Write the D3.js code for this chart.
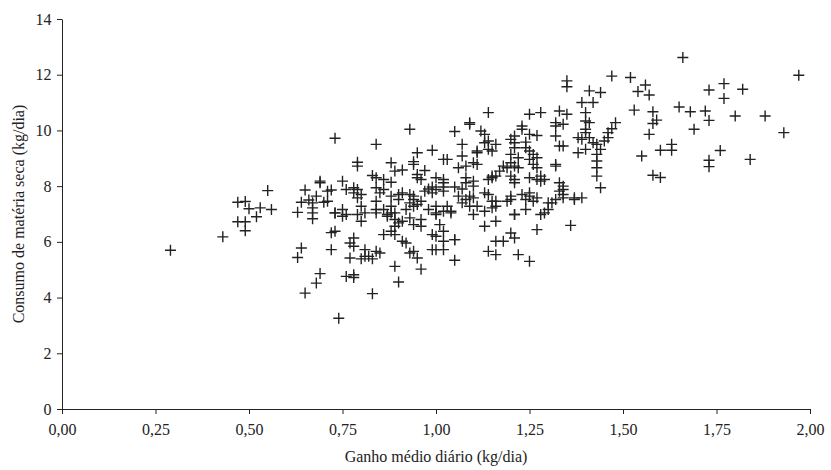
<!DOCTYPE html>
<html>
<head>
<meta charset="utf-8">
<script src="https://cdn.jsdelivr.net/npm/d3@7"></script>
<style>
  body { margin: 0; background: #fff; }
  svg text { font-family: "Liberation Serif", "Times New Roman", serif; fill: #222; }
</style>
</head>
<body>
<svg width="831" height="470"></svg>
<script>
// ganho medio diario (kg/dia) and consumo de materia seca (kg/dia)
var ganho = [
  0.29,0.43,0.55,0.47,0.49,0.50,0.53,0.56,0.52,0.47,0.49,0.49,
  0.69,0.65,0.71,0.68,0.64,0.66,0.67,0.70,0.63,0.67,0.67,0.67,0.64,0.63,0.69,0.68,0.65,0.72,
  0.73,0.93,1.09,1.05,0.84,1.07,0.95,0.99,1.02,1.03,1.07,1.11,0.79,0.79,0.88,0.94,0.94,
  0.89,0.91,0.97,1.06,1.08,1.10,0.83,0.84,0.86,0.88,0.95,0.95,0.96,1.00,1.02,1.02,1.08,1.10,
  0.69,0.75,0.72,0.76,0.78,0.78,0.79,0.79,0.80,0.84,0.85,0.86,0.88,0.90,0.91,0.93,0.94,0.94,
  0.97,0.98,0.99,0.99,1.00,1.02,1.02,1.05,1.07,1.08,0.71,0.73,0.75,0.76,0.80,0.81,0.84,0.84,
  0.86,0.88,0.87,0.89,0.90,0.93,0.92,0.94,0.95,0.96,0.98,1.00,1.00,1.02,1.03,1.04,
  1.06,1.07,1.08,1.09,1.10,
  0.73,0.75,0.79,0.80,0.84,0.87,0.88,0.89,0.89,0.90,0.91,0.93,0.94,0.96,0.96,
  0.88,0.89,0.86,1.00,1.04,1.10,1.01,1.02,0.99,1.00,1.02,1.05,1.05,0.99,1.00,1.02,1.05,
  0.73,0.72,0.77,0.78,0.78,0.81,0.81,0.84,0.85,0.77,0.80,0.82,0.83,0.91,0.92,0.93,0.94,0.95,
  0.89,0.96,0.76,0.78,0.78,0.90,0.83,0.74,
  1.35,1.35,1.41,1.44,1.42,1.39,1.14,1.25,1.28,1.33,1.35,1.40,1.40,1.41,1.48,1.47,1.46,1.46,1.45,
  1.32,1.34,1.32,1.40,1.40,1.38,1.39,1.41,1.23,1.23,1.25,1.27,1.21,1.20,1.21,1.21,1.24,1.24,
  1.32,1.33,1.34,1.42,1.43,1.44,1.43,1.40,1.38,1.43,1.43,1.43,1.44,
  1.12,1.13,1.13,1.14,1.14,1.15,1.11,1.16,1.09,1.11,
  1.25,1.26,1.25,1.27,1.26,1.27,1.20,1.22,1.20,1.21,1.22,1.18,1.17,1.19,1.16,1.15,1.14,1.15,
  1.20,1.21,1.21,1.25,1.27,1.28,1.28,1.29,1.32,1.32,1.33,1.34,1.33,1.34,1.34,1.37,1.39,
  1.20,1.20,1.23,1.25,1.24,1.25,1.26,1.27,1.30,1.32,1.34,1.10,1.09,1.11,1.13,1.14,1.15,1.16,
  1.16,1.19,1.31,1.37,1.13,1.15,1.21,1.21,1.24,1.28,1.29,1.30,1.13,1.16,1.27,1.36,1.16,1.18,
  1.20,1.21,1.14,1.16,1.22,1.25,1.47,
  1.66,1.97,1.52,1.56,1.57,1.54,1.73,1.77,1.77,1.82,1.53,1.58,1.59,1.58,1.65,1.68,1.72,1.73,
  1.80,1.88,1.69,1.57,1.93,1.63,1.63,1.60,1.55,1.76,1.73,1.73,1.84,1.58,1.60
];
var consumo = [
  5.70,6.18,7.84,7.42,7.45,7.19,7.22,7.16,6.90,6.72,6.72,6.40,
  8.12,7.86,7.82,7.64,7.42,7.50,7.40,7.42,7.06,7.22,7.04,6.83,5.78,5.44,4.86,4.52,4.16,6.33,
  9.72,10.04,10.22,9.96,9.50,9.50,9.20,9.29,8.96,8.96,9.08,9.20,8.86,8.72,8.84,8.88,8.78,
  8.54,8.58,8.56,8.66,8.72,8.84,8.38,8.30,8.24,8.14,8.42,8.30,8.24,8.30,8.24,8.12,8.30,8.18,
  8.18,8.18,7.86,7.88,7.94,7.76,7.58,7.88,7.70,7.94,7.76,7.88,7.64,7.70,7.76,7.70,7.64,7.52,
  7.82,7.90,7.97,7.76,7.88,7.97,7.82,7.97,7.90,8.12,7.46,7.04,7.16,6.98,7.28,7.04,7.46,7.16,
  7.16,7.28,6.98,7.04,7.52,7.40,7.16,7.28,7.34,7.46,7.16,6.98,7.28,7.10,7.28,7.04,
  7.64,7.40,7.52,7.28,7.58,
  7.04,6.92,6.98,6.74,7.04,6.92,7.04,6.80,6.56,6.68,6.74,6.86,6.62,6.80,6.56,
  6.38,6.26,6.26,7.04,7.10,6.98,6.62,6.38,6.26,6.20,6.02,6.08,6.08,5.72,5.72,5.72,5.34,
  6.38,5.72,5.96,6.14,5.84,5.72,5.48,5.66,5.60,5.42,5.39,5.48,5.39,6.02,5.96,5.60,5.66,5.42,
  5.12,5.02,4.76,4.82,4.72,4.56,4.14,3.26,
  11.78,11.57,11.42,11.36,11.00,11.00,10.64,10.58,10.64,10.70,10.58,10.64,10.34,10.28,10.28,10.06,9.92,9.74,9.62,
  10.28,10.22,10.16,10.04,9.92,9.74,9.68,9.74,10.16,10.04,9.86,9.82,9.80,9.68,9.56,9.38,9.58,9.38,
  9.80,9.44,9.44,9.56,9.50,9.32,9.14,9.32,9.20,8.90,8.66,8.36,7.94,
  9.98,9.86,9.56,9.62,9.32,9.26,9.26,9.50,10.28,8.78,
  9.26,9.14,8.96,9.02,8.78,8.66,9.14,9.02,8.84,8.72,8.66,8.72,8.54,8.66,8.36,8.30,8.24,8.36,
  8.36,8.24,8.12,8.30,8.24,8.36,8.18,8.24,8.78,8.72,8.12,8.00,7.82,7.70,7.88,7.58,7.58,
  7.64,7.52,7.70,7.76,7.52,7.64,7.46,7.58,7.40,7.52,7.58,8.00,7.64,7.28,7.76,7.70,7.46,7.28,
  7.46,7.46,7.40,7.52,7.10,7.22,6.98,6.98,7.16,6.98,7.04,7.16,6.56,6.74,6.44,6.59,6.02,6.02,
  6.32,6.14,5.66,5.54,5.54,5.30,11.95,
  12.62,11.98,11.90,11.63,11.27,11.40,11.45,11.68,11.15,11.48,10.73,10.67,10.37,10.25,10.84,10.67,10.70,10.36,
  10.52,10.52,10.04,9.86,9.92,9.50,9.29,9.29,9.08,9.28,8.93,8.70,8.96,8.39,8.31
];
var xTicks = [0, 0.25, 0.5, 0.75, 1.0, 1.25, 1.5, 1.75, 2.0];
var yTicks = [0, 2, 4, 6, 8, 10, 12, 14];

var svg = d3.select('svg');
var x = d3.scaleLinear().domain([0, 2]).range([62, 810]);
var y = d3.scaleLinear().domain([0, 14]).range([409, 19]);
var fmt = function(d) { return d3.format('.2f')(d).replace('.', ','); };

var xAxis = svg.append('g')
    .attr('transform', 'translate(0,409)')
    .call(d3.axisBottom(x).tickValues(xTicks).tickFormat(fmt).tickSize(5).tickSizeOuter(0));
var yAxis = svg.append('g')
    .attr('transform', 'translate(62,0)')
    .call(d3.axisLeft(y).tickValues(yTicks).tickSize(5).tickSizeOuter(0));

[xAxis, yAxis].forEach(function(a) {
    a.selectAll('path, line').attr('stroke', '#222').attr('stroke-width', 1);
    a.selectAll('text').attr('font-size', 16).attr('fill', '#222')
	.style('font-family', '"Liberation Serif", serif');
});
xAxis.selectAll('text').attr('dy', '1.15em');
yAxis.selectAll('text').attr('dx', '-0.15em');

// plus markers
var pts = svg.append('g');
ganho.forEach(function(g, i) {
    var cx = x(g), cy = y(consumo[i]);
    pts.append('path')
	.attr('d', 'M' + (cx - 5.5) + ',' + cy + 'H' + (cx + 5.5) + 'M' + cx + ',' + (cy - 5.5) + 'V' + (cy + 5.5))
	.attr('stroke', '#222')
	.attr('stroke-width', 1.4)
	.attr('fill', 'none');
});

svg.append('text')
    .attr('x', 436).attr('y', 462)
    .attr('text-anchor', 'middle')
    .attr('font-size', 16)
    .text('Ganho médio diário (kg/dia)');
svg.append('text')
    .attr('transform', 'translate(24,214) rotate(-90)')
    .attr('text-anchor', 'middle')
    .attr('font-size', 16)
    .text('Consumo de matéria seca (kg/dia)');
</script>
</body>
</html>
